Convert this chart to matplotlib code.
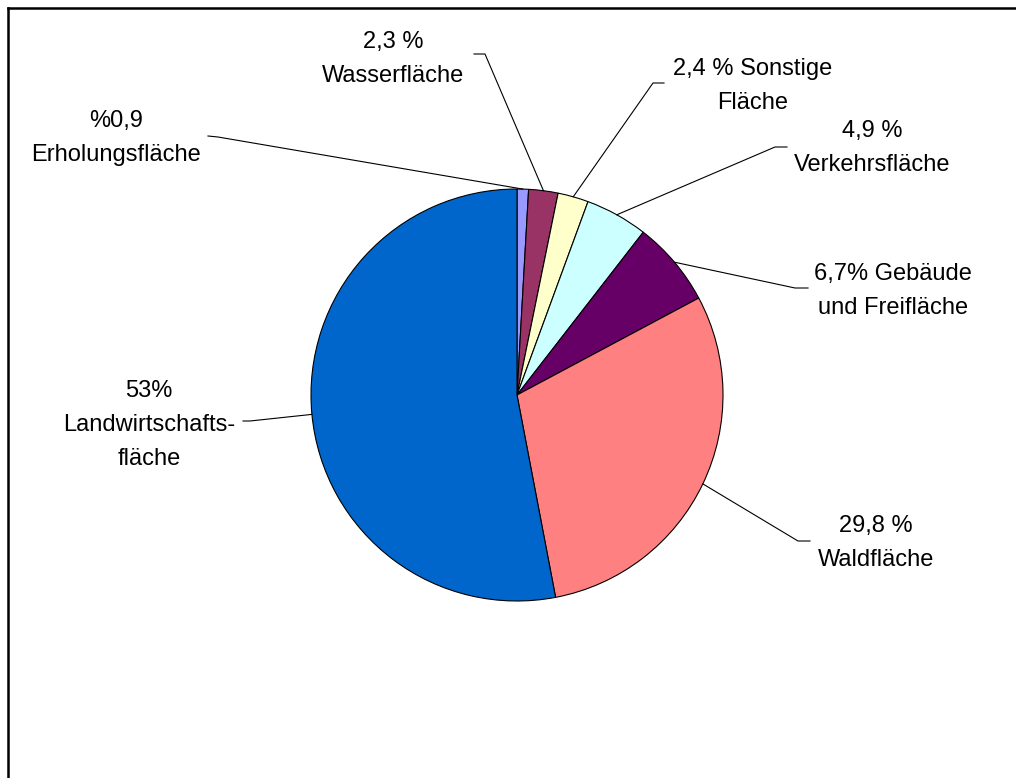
import matplotlib.pyplot as plt
import numpy as np
from matplotlib.lines import Line2D

plt.rcParams['font.family'] = ['Liberation Sans', 'DejaVu Sans']

# data (clockwise from the top)
labels = ["%0,9\nErholungsfläche",
          "2,3 %\nWasserfläche",
          "2,4 % Sonstige\nFläche",
          "4,9 %\nVerkehrsfläche",
          "6,7% Gebäude\nund Freifläche",
          "29,8 %\nWaldfläche",
          "53%\nLandwirtschafts-\nfläche"]
values = [0.9, 2.3, 2.4, 4.9, 6.7, 29.8, 53.0]
colors = ["#9999FF", "#993366", "#FFFFCC", "#CCFFFF", "#660066", "#FF8080", "#0066CC"]

W, H = 1016, 778
fig = plt.figure(figsize=(W / 100, H / 100), dpi=100)
ax = fig.add_axes([0, 0, 1, 1])
ax.set_xlim(0, W)
ax.set_ylim(0, H)
ax.axis('off')

cx, cy, r = 517, H - 395, 206
wedges, _ = ax.pie(values, colors=colors, startangle=90, counterclock=False,
                   center=(cx, cy), radius=r,
                   wedgeprops=dict(edgecolor='black', linewidth=0.8))
ax.set_xlim(0, W)
ax.set_ylim(0, H)
ax.set_aspect('auto')

# label text centre, leader elbow, leader end at the text (pixel coords, y from top)
text_pos = [(116, 138), (393, 59), (753, 86), (872, 148), (893, 291), (876, 543), (149, 425)]
elbows = [(218, 137), (485, 54), (653, 83), (775, 147), (795, 288), (798, 541), (250, 421)]
starts = [(208, 136), (474, 54), (664, 83), (787, 147), (808, 288), (810, 541), (243, 421)]

for w, lab, tp, el, st in zip(wedges, labels, text_pos, elbows, starts):
    ang = np.deg2rad((w.theta1 + w.theta2) / 2)
    px = cx + r * np.cos(ang)
    py = cy + r * np.sin(ang)
    ax.plot([px, el[0], st[0]], [py, H - el[1], H - st[1]], color='black', lw=0.8)
    ax.text(tp[0], H - tp[1], lab, ha='center', va='center', fontsize=17,
            linespacing=1.7, color='black')

# outer frame (only top and left visible)
fig.add_artist(Line2D([8 / W, 8 / W], [0, 1 - 8 / H], transform=fig.transFigure, color='black', lw=1.8))
fig.add_artist(Line2D([8 / W, 1], [1 - 8 / H, 1 - 8 / H], transform=fig.transFigure, color='black', lw=1.8))

fig.savefig("out.png", dpi=100)
